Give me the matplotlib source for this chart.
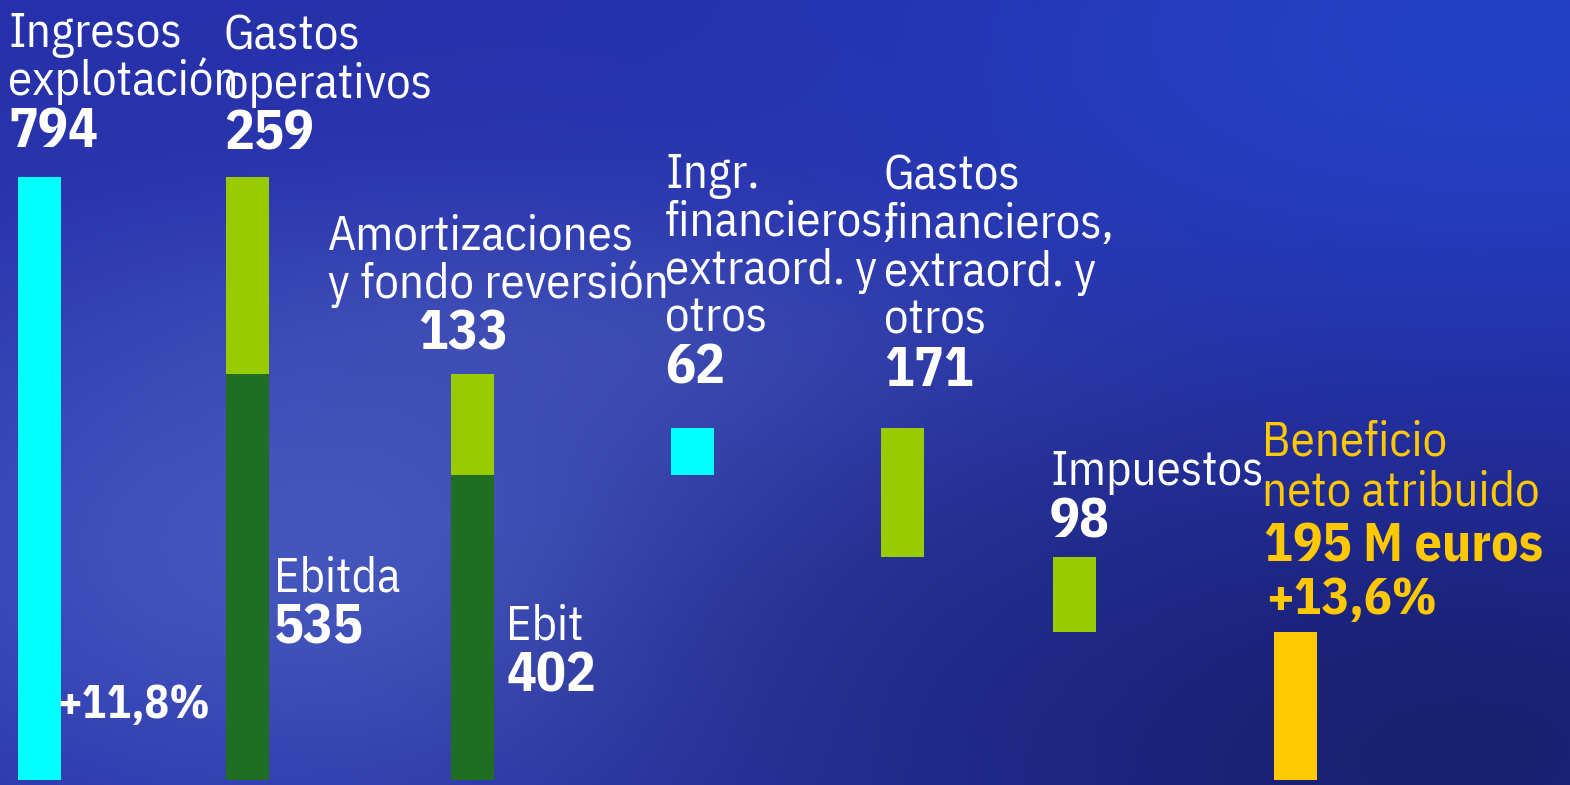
import matplotlib
matplotlib.use("Agg")
import matplotlib.pyplot as plt
import numpy as np

# datos (millones de euros)
ingresos = 794
gastos_oper = 259
ebitda = ingresos - gastos_oper          # 535
amortiz = 133
ebit = ebitda - amortiz                  # 402
ingr_fin = 62
gastos_fin = 171
impuestos = 98
beneficio = 195
crec_ingresos = "+11,8%"
crec_beneficio = "+13,6%"

W, H = 1570, 785
fig = plt.figure(figsize=(W / 100, H / 100), dpi=100)
ax = fig.add_axes([0, 0, 1, 1])

# fondo azul degradado
yy, xx = np.mgrid[0:H, 0:W]
xn, yn = xx / W, yy / H
bg = np.zeros((H, W, 3))
bg[:] = np.array([38, 48, 170]) / 255
def blob(cx, cy, sx, sy, col, amt):
    g = np.exp(-(((xn - cx) / sx) ** 2 + ((yn - cy) / sy) ** 2))[..., None] * amt
    return g * (np.array(col) / 255 - bg)
bg += blob(0.95, 0.05, 0.35, 0.35, [35, 70, 205], 0.8)
bg += blob(0.25, 0.7, 0.35, 0.35, [80, 100, 200], 0.8)
bg += blob(0.35, 0.45, 0.25, 0.15, [70, 85, 185], 0.6)
bg += blob(0.9, 0.95, 0.4, 0.35, [22, 30, 105], 0.9)
bg += blob(0.6, 0.8, 0.25, 0.3, [30, 40, 130], 0.5)
ax.imshow(np.clip(bg, 0, 1), extent=[0, W, -6.6, 1027], aspect="auto", zorder=0)

cyan, lgreen, dgreen, gold = "#00FFFF", "#99CC00", "#1F6E22", "#FFC800"
xpos = [39.5, 247.5, 472.5, 692, 902.5, 1074.5, 1295.5]
bw = 43

ax.bar(xpos[0], ingresos, width=bw, color=cyan, zorder=2)
ax.bar(xpos[1], ebitda, width=bw, color=dgreen, zorder=2)
ax.bar(xpos[1], gastos_oper, bottom=ebitda, width=bw, color=lgreen, zorder=2)
ax.bar(xpos[2], ebit, width=bw, color=dgreen, zorder=2)
ax.bar(xpos[2], amortiz, bottom=ebit, width=bw, color=lgreen, zorder=2)
ax.bar(xpos[3], ingr_fin, bottom=ebit, width=bw, color=cyan, zorder=2)
ax.bar(xpos[4], gastos_fin, bottom=ebit + ingr_fin - gastos_fin, width=bw, color=lgreen, zorder=2)
ax.bar(xpos[5], impuestos, bottom=beneficio, width=bw, color=lgreen, zorder=2)
ax.bar(xpos[6], beneficio, width=bw, color=gold, zorder=2)

ax.set_xlim(0, W)
ax.set_ylim(-6.6, 1027)
ax.axis("off")

fam = ["IBM Plex Sans Condensed", "DejaVu Sans"]
def t(x, y, s, size=35, bold=False, color="white"):
    ax.text(x / W, 1 - y / H, s, transform=ax.transAxes, fontsize=size,
            fontweight="bold" if bold else "normal", color=color,
            family=fam, ha="left", va="baseline", zorder=3)

def bloque(x, y0, lines, valor, vx=None, step=48, vstep=52, color="white"):
    y = y0
    for ln in lines:
        t(x, y, ln, color=color)
        y += step
    t(vx if vx is not None else x, y - step + vstep, valor, size=40, bold=True, color=color)

bloque(8, 47, ["Ingresos", "explotación"], str(ingresos))
bloque(224, 50, ["Gastos", "operativos"], str(gastos_oper))
bloque(328, 250, ["Amortizaciones", "y fondo reversión"], str(amortiz), vx=418)
bloque(665, 188, ["Ingr.", "financieros,", "extraord. y", "otros"], str(ingr_fin))
bloque(884, 190, ["Gastos", "financieros,", "extraord. y", "otros"], str(gastos_fin))
bloque(1050, 485, ["Impuestos"], str(impuestos))
bloque(274, 592, ["Ebitda"], str(ebitda))
bloque(506, 640, ["Ebit"], str(ebit))
t(57, 718, crec_ingresos, size=33, bold=True)

t(1262, 455, "Beneficio", color=gold)
t(1262, 505, "neto atribuido", color=gold)
t(1264, 562, f"{beneficio} M euros", size=39, bold=True, color=gold)
t(1266, 614, crec_beneficio, size=37, bold=True, color=gold)

fig.savefig("out.png", dpi=100)
